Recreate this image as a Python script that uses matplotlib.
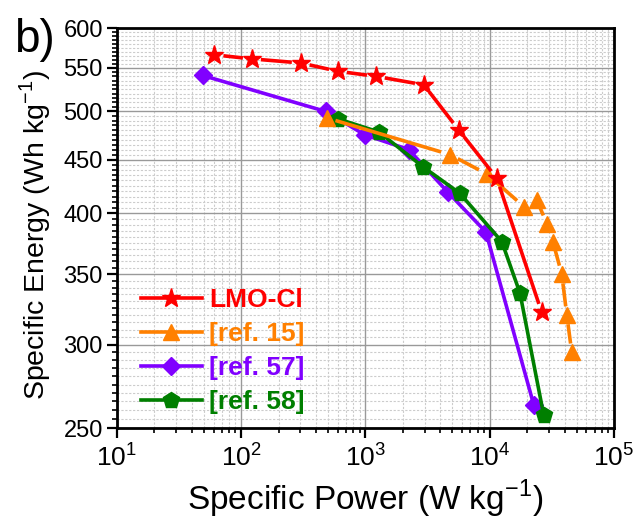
import numpy as np
import matplotlib
matplotlib.use('Agg')
import matplotlib.pyplot as plt
from matplotlib.lines import Line2D
from matplotlib.ticker import FixedLocator, FormatStrFormatter, NullFormatter, LogLocator

plt.rcParams['font.family'] = ['Liberation Sans', 'DejaVu Sans']
plt.rcParams['mathtext.fontset'] = 'custom'
plt.rcParams['mathtext.rm'] = 'Liberation Sans'

# data (W/kg, Wh/kg)
lmo_p = [61, 122, 302, 600, 1213, 2950, 5640, 11400, 26200]
lmo_e = [566, 561, 556, 546, 540, 530, 480, 432, 322]

ref15_p = [489, 4775, 9480, 18800, 23900, 28800, 32200, 38000, 41700, 45700]
ref15_e = [493, 455, 436, 406, 412, 391, 376, 350, 320, 295]

ref57_p = [49, 480, 988, 2230, 4600, 9310, 22600]
ref57_e = [541, 500, 475, 460, 419, 384, 263]

ref58_p = [600, 1283, 2900, 5740, 12500, 17500, 27200]
ref58_e = [492, 478, 443, 418, 376, 336, 257]

yticks = [250, 300, 350, 400, 450, 500, 550, 600]

fig = plt.figure(figsize=(6.35, 5.22), dpi=100)
ax = fig.add_axes([0.184, 0.18, 0.783, 0.766])
ax.set_xscale('log')
ax.set_yscale('log')
ax.set_xlim(10, 1e5)
ax.set_ylim(250, 600)

LW = 2.6


def gapped_line(xs, ys, color, gap, z):
    # origin-style line: segments stop short of the symbols
    pts = ax.transData.transform(np.column_stack([xs, ys]))
    inv = ax.transData.inverted()
    for p0, p1 in zip(pts[:-1], pts[1:]):
        d = p1 - p0
        L = np.hypot(*d)
        if L <= 2 * gap + 1:
            continue
        u = d / L
        seg = inv.transform([p0 + u * gap, p1 - u * gap])
        ax.plot(seg[:, 0], seg[:, 1], color=color, lw=LW, solid_capstyle='butt', zorder=z)


series = [
    (lmo_p, lmo_e, '#ff0000', '*', 14, 'LMO-Cl', 9, 6),
    (ref15_p, ref15_e, '#ff8000', '^', 11, '[ref. 15]', 9, 5),
    (ref57_p, ref57_e, '#8000ff', 'D', 9, '[ref. 57]', 0, 3),
    (ref58_p, ref58_e, '#007f00', 'p', 12, '[ref. 58]', 0, 4),
]

handles = []
for xs, ys, c, m, ms, lab, gap, z in series:
    if gap > 0:
        gapped_line(xs, ys, c, gap, z)
        ax.plot(xs, ys, ls='none', marker=m, ms=ms, color=c, zorder=z)
    else:
        ax.plot(xs, ys, marker=m, ms=ms, color=c, lw=LW, zorder=z)
    handles.append(Line2D([], [], color=c, marker=m, ms=ms, lw=LW, label=lab))

ax.yaxis.set_major_locator(FixedLocator(yticks))
ax.yaxis.set_major_formatter(FormatStrFormatter('%d'))
ax.yaxis.set_minor_locator(FixedLocator(np.arange(250, 601, 5)))
ax.yaxis.set_minor_formatter(NullFormatter())
ax.xaxis.set_major_locator(LogLocator(base=10, numticks=10))
ax.xaxis.set_minor_locator(LogLocator(base=10, subs=np.arange(2, 10), numticks=20))
ax.xaxis.set_minor_formatter(NullFormatter())

ax.grid(True, which='major', color='#999999', lw=1.0, ls='-')
ax.grid(True, which='minor', color='#cccccc', lw=0.8, ls=(0, (2, 1.5)))
ax.set_axisbelow(True)

for s in ax.spines.values():
    s.set_linewidth(2)
ax.tick_params(axis='both', which='major', direction='out', length=7, width=1.6)
ax.tick_params(axis='both', which='minor', direction='out', length=3.5, width=1.2)
ax.tick_params(axis='y', labelsize=17, pad=3)
ax.tick_params(axis='x', labelsize=19, pad=5)

ax.set_xlabel('Specific Power (W kg$^{-1}$)', fontsize=24, labelpad=4)
ax.set_ylabel('Specific Energy (Wh kg$^{-1}$)', fontsize=20.5)
ax.yaxis.set_label_coords(-0.128, 0.483)

ax.legend(handles=handles, loc='lower left', bbox_to_anchor=(0.027, 0.009), frameon=False,
          labelcolor='linecolor', prop={'weight': 'bold', 'size': 19},
          handlelength=2.3, handletextpad=0.3, labelspacing=0.38,
          borderaxespad=0.0)

fig.text(0.022, 0.9, 'b)', fontsize=33)

fig.savefig('out.png', dpi=100)
